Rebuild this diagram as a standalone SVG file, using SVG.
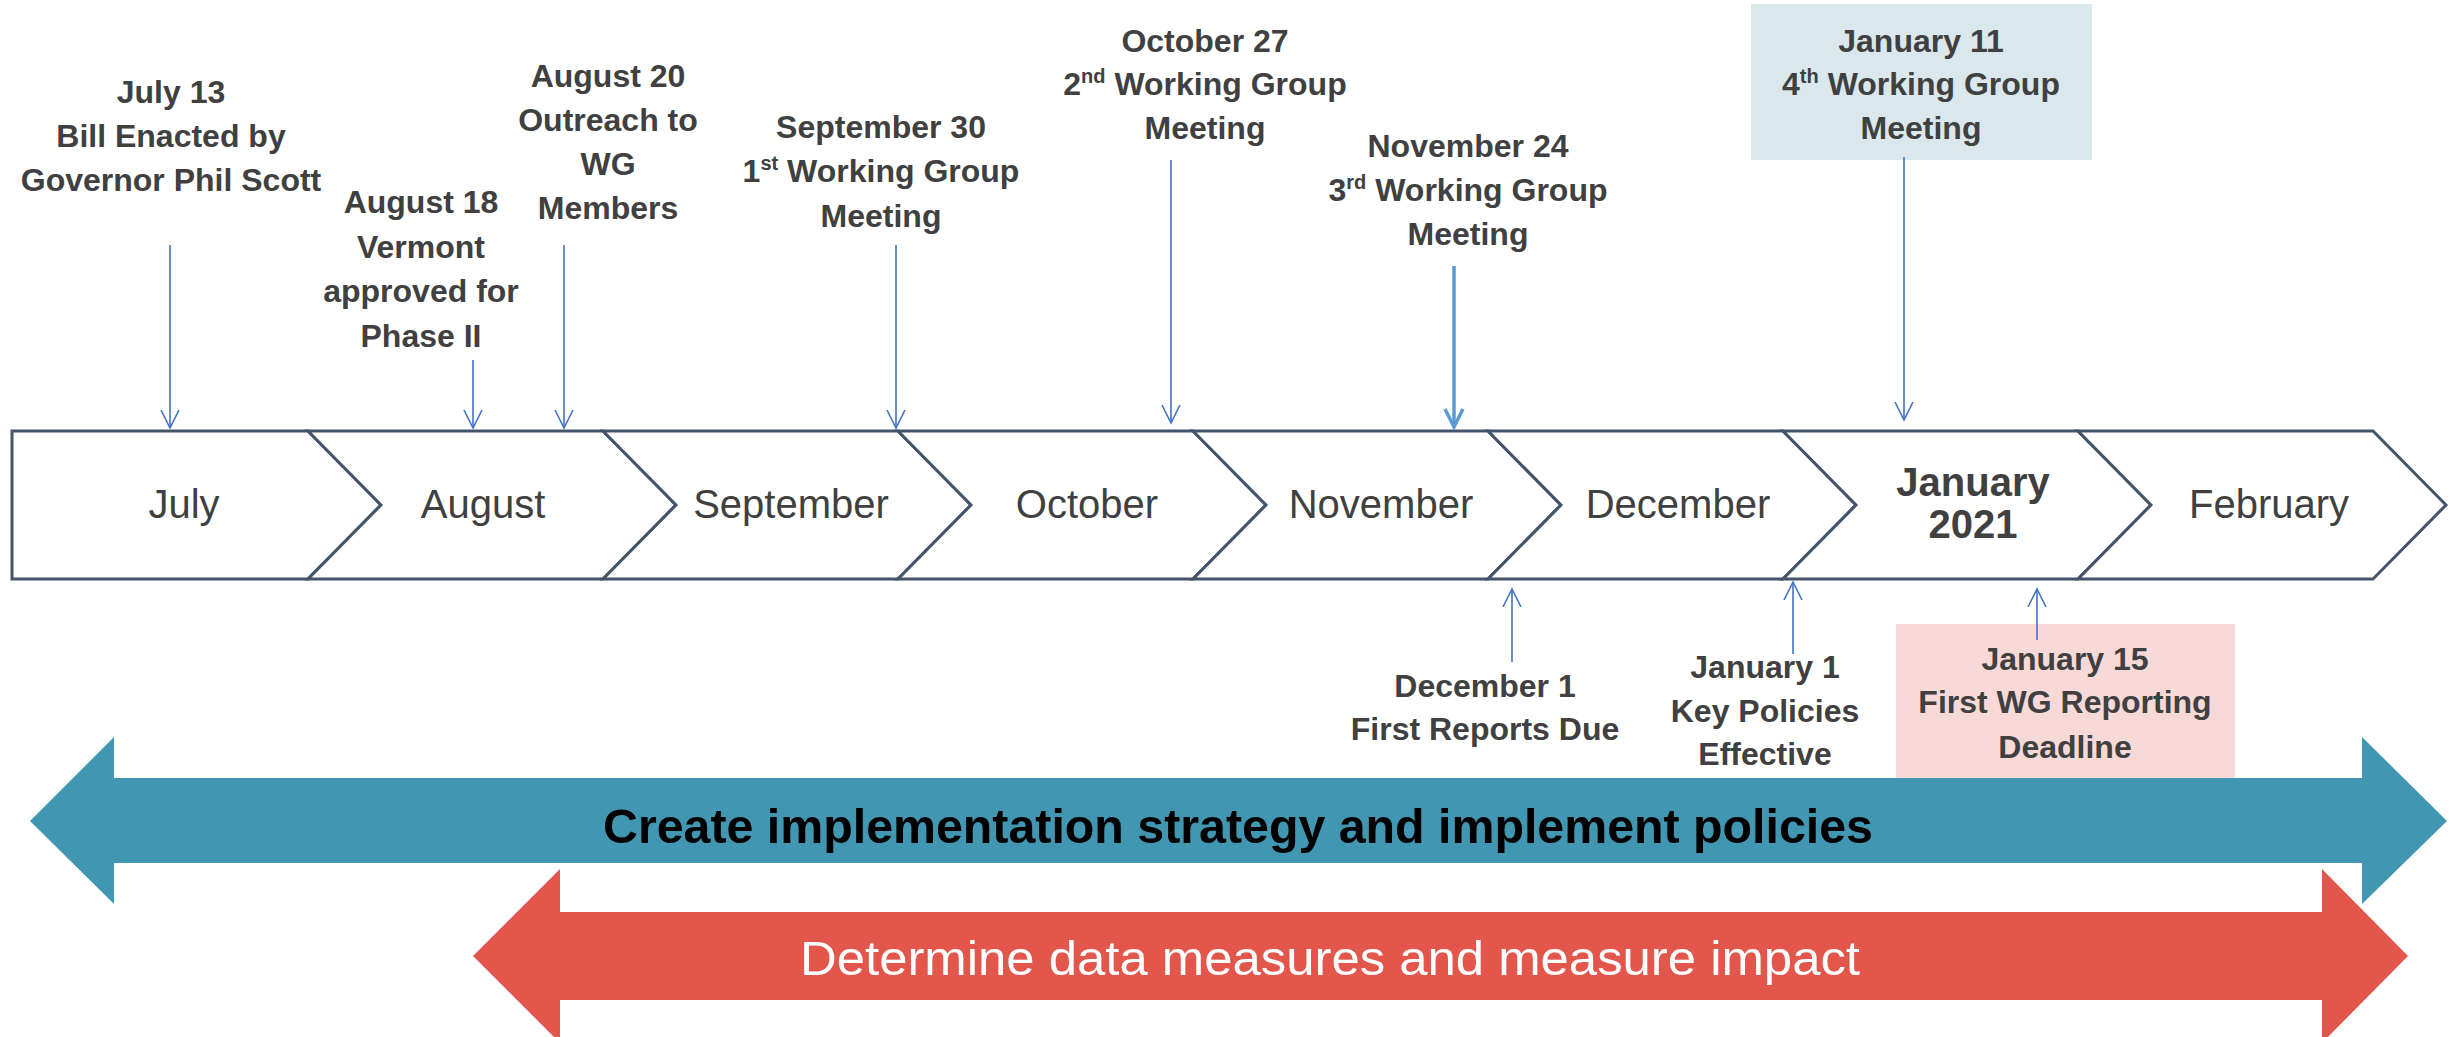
<svg xmlns="http://www.w3.org/2000/svg" width="2453" height="1037" viewBox="0 0 2453 1037">
<style>
.lbl{font-family:"Liberation Sans",Arial,sans-serif;font-size:32px;font-weight:bold;fill:#404040;text-anchor:middle}
.mon{font-family:"Liberation Sans",Arial,sans-serif;font-size:40px;fill:#404040;text-anchor:middle}
.sup{font-size:20px}
.chev{fill:#ffffff;stroke:#44546a;stroke-width:3;stroke-linejoin:miter}
.con{stroke:#4472c4;stroke-width:1.6;fill:none}
.conb{stroke:#5b9bd5;stroke-width:3.5;fill:none}
</style>
<defs>
<marker id="ah" viewBox="0 0 20 20" refX="18" refY="10" markerWidth="20" markerHeight="20" markerUnits="userSpaceOnUse" orient="auto">
<path d="M0,1 L18,10 L0,19" fill="none" stroke="#4472c4" stroke-width="1.6"/>
</marker>
<marker id="ahb" viewBox="0 0 22 22" refX="19" refY="11" markerWidth="22" markerHeight="22" markerUnits="userSpaceOnUse" orient="auto">
<path d="M1,2 L19,11 L1,20" fill="none" stroke="#5b9bd5" stroke-width="3.5"/>
</marker>
</defs>
<rect width="2453" height="1037" fill="#ffffff"/>

<g id="timeline">
<polygon class="chev" points="12,431 308,431 381,505 308,579 12,579"/>
<polygon class="chev" points="308,431 603,431 676,505 603,579 308,579 381,505"/>
<polygon class="chev" points="603,431 898,431 971,505 898,579 603,579 676,505"/>
<polygon class="chev" points="898,431 1193,431 1266,505 1193,579 898,579 971,505"/>
<polygon class="chev" points="1193,431 1488,431 1561,505 1488,579 1193,579 1266,505"/>
<polygon class="chev" points="1488,431 1783,431 1856,505 1783,579 1488,579 1561,505"/>
<polygon class="chev" points="1783,431 2078,431 2151,505 2078,579 1783,579 1856,505"/>
<polygon class="chev" points="2078,431 2373,431 2446,505 2373,579 2078,579 2151,505"/>
<text class="mon" x="184" y="518">July</text>
<text class="mon" x="483" y="518">August</text>
<text class="mon" x="791" y="518">September</text>
<text class="mon" x="1087" y="518">October</text>
<text class="mon" x="1381" y="518">November</text>
<text class="mon" x="1678" y="518">December</text>
<text class="mon" x="1973" y="496" font-weight="bold">January</text>
<text class="mon" x="1973" y="538" font-weight="bold">2021</text>
<text class="mon" x="2269" y="518">February</text>
</g>

<g id="banner-create">
<polygon fill="#4196b1" points="30,821 114,737 114,778 2362,778 2362,737 2447,821 2362,904 2362,863 114,863 114,904"/>
<text x="1238" y="843" font-family="Liberation Sans,Arial,sans-serif" font-size="48" font-weight="bold" fill="#000000" text-anchor="middle" textLength="1270" lengthAdjust="spacingAndGlyphs">Create implementation strategy and implement policies</text>
</g>

<g id="banner-determine">
<polygon fill="#e2564b" points="473,956 560,869 560,912 2322,912 2322,869 2408,956 2322,1043 2322,1000 560,1000 560,1043"/>
<text x="1330" y="975" font-family="Liberation Sans,Arial,sans-serif" font-size="48" fill="#ffffff" text-anchor="middle" textLength="1060" lengthAdjust="spacingAndGlyphs">Determine data measures and measure impact</text>
</g>

<g id="ev-jul13">
<text class="lbl" x="171" y="103">July 13</text>
<text class="lbl" x="171" y="147">Bill Enacted by</text>
<text class="lbl" x="171" y="191">Governor Phil Scott</text>
</g>
<g id="ev-aug18">
<text class="lbl" x="421" y="213">August 18</text>
<text class="lbl" x="421" y="258">Vermont</text>
<text class="lbl" x="421" y="302">approved for</text>
<text class="lbl" x="421" y="347">Phase II</text>
</g>
<g id="ev-aug20">
<text class="lbl" x="608" y="87">August 20</text>
<text class="lbl" x="608" y="131">Outreach to</text>
<text class="lbl" x="608" y="175">WG</text>
<text class="lbl" x="608" y="219">Members</text>
</g>
<g id="ev-sep30">
<text class="lbl" x="881" y="138">September 30</text>
<text class="lbl" x="881" y="182">1<tspan class="sup" dy="-12">st</tspan><tspan dy="12"> Working Group</tspan></text>
<text class="lbl" x="881" y="227">Meeting</text>
</g>
<g id="ev-oct27">
<text class="lbl" x="1205" y="52">October 27</text>
<text class="lbl" x="1205" y="95">2<tspan class="sup" dy="-12">nd</tspan><tspan dy="12"> Working Group</tspan></text>
<text class="lbl" x="1205" y="139">Meeting</text>
</g>
<g id="ev-nov24">
<text class="lbl" x="1468" y="157">November 24</text>
<text class="lbl" x="1468" y="201">3<tspan class="sup" dy="-12">rd</tspan><tspan dy="12"> Working Group</tspan></text>
<text class="lbl" x="1468" y="245">Meeting</text>
</g>
<g id="ev-jan11">
<rect x="1751" y="4" width="341" height="156" fill="#dae8ee"/>
<text class="lbl" x="1921" y="52">January 11</text>
<text class="lbl" x="1921" y="95">4<tspan class="sup" dy="-12">th</tspan><tspan dy="12"> Working Group</tspan></text>
<text class="lbl" x="1921" y="139">Meeting</text>
</g>
<g id="ev-dec1">
<text class="lbl" x="1485" y="697">December 1</text>
<text class="lbl" x="1485" y="740">First Reports Due</text>
</g>
<g id="ev-jan1">
<text class="lbl" x="1765" y="678">January 1</text>
<text class="lbl" x="1765" y="722">Key Policies</text>
<text class="lbl" x="1765" y="765">Effective</text>
</g>
<g id="ev-jan15">
<rect x="1896" y="624" width="339" height="154" fill="#f7d9d8"/>
<text class="lbl" x="2065" y="670">January 15</text>
<text class="lbl" x="2065" y="713">First WG Reporting</text>
<text class="lbl" x="2065" y="758">Deadline</text>
</g>

<g id="connectors">
<line class="con" x1="170" y1="245" x2="170" y2="428" marker-end="url(#ah)"/>
<line class="con" x1="473" y1="360" x2="473" y2="428" marker-end="url(#ah)"/>
<line class="con" x1="564" y1="245" x2="564" y2="428" marker-end="url(#ah)"/>
<line class="con" x1="896" y1="245" x2="896" y2="428" marker-end="url(#ah)"/>
<line class="con" x1="1171" y1="160" x2="1171" y2="423" marker-end="url(#ah)"/>
<line class="conb" x1="1454" y1="266" x2="1454" y2="427" marker-end="url(#ahb)"/>
<line class="con" x1="1904" y1="157" x2="1904" y2="420" marker-end="url(#ah)"/>
<line class="con" x1="1512" y1="662" x2="1512" y2="589" marker-end="url(#ah)"/>
<line class="con" x1="1793" y1="654" x2="1793" y2="582" marker-end="url(#ah)"/>
<line class="con" x1="2037" y1="640" x2="2037" y2="589" marker-end="url(#ah)"/>
</g>
</svg>
